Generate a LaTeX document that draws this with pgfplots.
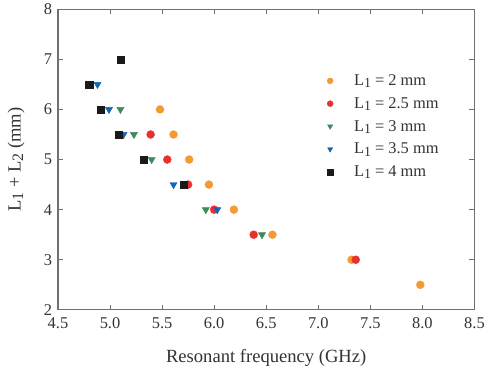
\documentclass[border=0pt]{standalone}
\usepackage{pgfplots}
\pgfplotsset{compat=1.18}
\usepackage{fontspec}
\setmainfont{Liberation Serif}
\definecolor{cOr}{HTML}{F39A32}
\definecolor{cRe}{HTML}{E8312F}
\definecolor{cGr}{HTML}{3D8B5C}
\definecolor{cBl}{HTML}{1565B0}
\definecolor{cBk}{HTML}{1A1A1A}
\definecolor{axgray}{HTML}{707070}
\newcommand\lsub[1]{\raisebox{-0.3ex}{\fontsize{14bp}{14bp}\selectfont #1}}
\newcommand\ysub[1]{\raisebox{-0.3ex}{\fontsize{16bp}{16bp}\selectfont #1}}
\begin{document}
\begin{tikzpicture}
\begin{axis}[
  scale only axis,
  width=419bp, height=302.4bp,
  xmin=4.5, xmax=8.5, ymin=2, ymax=8,
  xtick={4.5,5,...,8.5},
  ytick={2,3,...,8},
  xticklabel style={/pgf/number format/fixed, /pgf/number format/fixed zerofill, /pgf/number format/precision=1, yshift=-4.5bp},
  /pgf/number format/assume math mode=true,
  tick align=inside,
  major tick length=5bp,
  tick style={axgray, line width=1pt},
  axis line style={axgray, line width=1.3pt},
  ticklabel style={font=\fontsize{16.5bp}{18bp}\selectfont, text=black!80},
  yticklabel style={xshift=-2.5bp},
  xlabel={Resonant frequency (GHz)},
  ylabel={L\ysub{1} + L\ysub{2} (mm)},
  label style={font=\fontsize{18.7bp}{20bp}\selectfont, text=black!80},
  xlabel style={at={(axis description cs:0.5,0)}, anchor=center, yshift=-48bp},
  ylabel style={at={(axis description cs:0,0.5)}, anchor=center, yshift=42bp},
  legend style={draw=none, fill=none, at={(rel axis cs:0.634,0.796)}, anchor=north west,
    font=\fontsize{16.5bp}{18bp}\selectfont, text=black!80, row sep=6.5bp},
  legend cell align=left,
  legend image code/.code={\draw plot coordinates {(5bp,0bp)}; \path (0bp,0bp) (27bp,0bp);},
  legend image post style={mark size=3bp},
  clip=false,
]
\addplot[only marks, mark=*, mark size=4bp, color=cOr, draw=none, fill=cOr] coordinates {
 (5.48,6) (5.61,5.5) (5.76,5) (5.95,4.5) (6.19,4) (6.56,3.5) (7.32,3) (7.98,2.5)};
\addlegendentry{L\lsub{1} = 2 mm}
\addplot[only marks, mark=*, mark size=4bp, color=cRe, draw=none, fill=cRe] coordinates {
 (5.39,5.5) (5.55,5) (5.75,4.5) (6.00,4) (6.38,3.5) (7.36,3)};
\addlegendentry{L\lsub{1} = 2.5 mm}
\addplot[only marks, mark=triangle*, mark size=4.2bp, mark options={rotate=180}, color=cGr, draw=none, fill=cGr] coordinates {
 (5.10,6) (5.23,5.5) (5.40,5) (5.92,4) (6.46,3.5)};
\addlegendentry{L\lsub{1} = 3 mm}
\addplot[only marks, mark=triangle*, mark size=4.2bp, mark options={rotate=180}, color=cBl, draw=none, fill=cBl] coordinates {
 (4.88,6.5) (4.99,6) (5.13,5.5) (5.33,5) (5.61,4.5) (6.03,4)};
\addlegendentry{L\lsub{1} = 3.5 mm}
\addplot[only marks, mark=square*, mark size=3.6bp, color=cBk, draw=none, fill=cBk] coordinates {
 (5.10,7) (4.80,6.5) (4.91,6) (5.08,5.5) (5.32,5) (5.71,4.5)};
\addlegendentry{L\lsub{1} = 4 mm}
\coordinate (bl) at (rel axis cs:0,0);
\coordinate (tr) at (rel axis cs:1,1);
\end{axis}
\path ([shift={(-58.3bp,-64.3bp)}]bl) rectangle ([shift={(10.7bp,9.3bp)}]tr);
\end{tikzpicture}
\end{document}
